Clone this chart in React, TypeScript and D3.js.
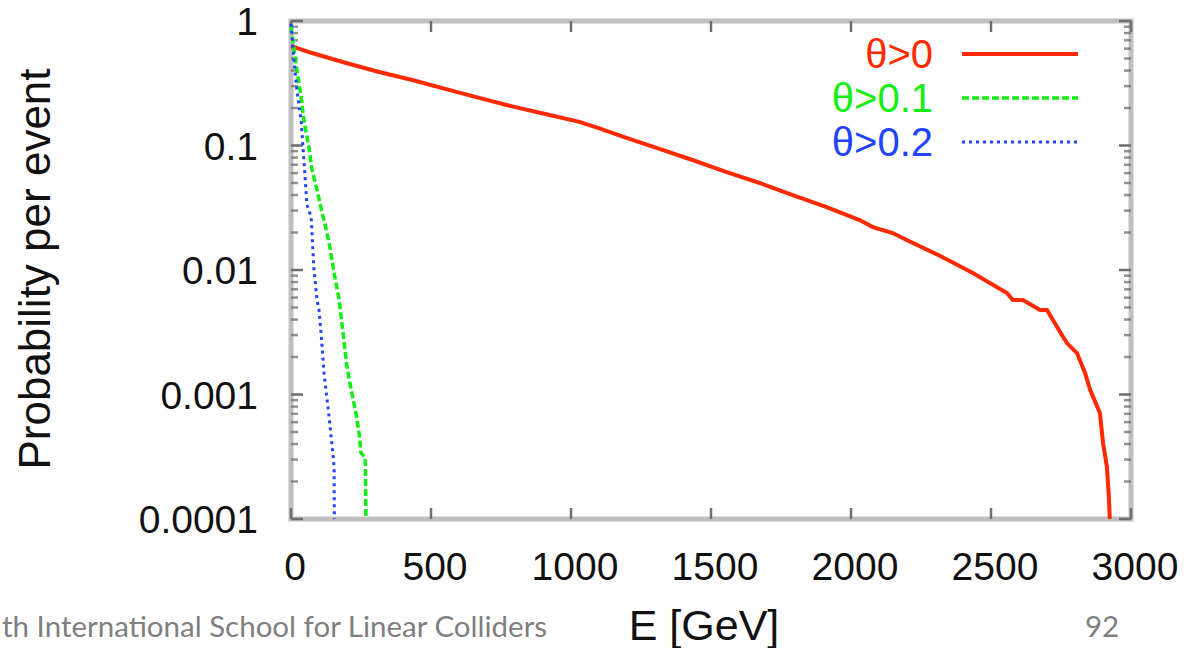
import React from "react";
import * as d3 from "d3";

const xTicks = [0, 500, 1000, 1500, 2000, 2500, 3000];
const xTickLabels = ["0", "500", "1000", "1500", "2000", "2500", "3000"];
const yTicks = [1, 0.1, 0.01, 0.001, 0.0001];
const yTickLabels = ["1", "0.1", "0.01", "0.001", "0.0001"];

const redE = [0, 75, 197, 315, 433, 554, 672, 790, 912, 1030, 1101, 1198, 1316, 1434, 1556, 1674, 1792, 1913, 2031, 2078, 2149, 2199, 2317, 2435, 2557, 2578, 2614, 2675, 2700, 2736, 2771, 2807, 2836, 2854, 2889, 2900, 2914, 2921, 2925];
const redP = [0.63, 0.553, 0.46, 0.389, 0.336, 0.284, 0.241, 0.206, 0.178, 0.155, 0.137, 0.115, 0.094, 0.0765, 0.061, 0.05, 0.04, 0.032, 0.0252, 0.0221, 0.0198, 0.0174, 0.013, 0.00946, 0.00654, 0.00574, 0.00574, 0.00477, 0.00477, 0.00348, 0.00259, 0.00215, 0.00149, 0.00109, 0.00071, 0.00041, 0.000262, 0.00015, 0.00009];

const greenE = [0, 21, 36, 46, 64, 75, 93, 111, 118, 136, 154, 172, 190, 200, 215, 232, 243, 250, 265, 268];
const greenP = [0.9, 0.404, 0.245, 0.16, 0.097, 0.0636, 0.044, 0.0287, 0.0252, 0.0165, 0.00946, 0.00574, 0.00259, 0.00166, 0.00109, 0.00071, 0.00049, 0.00034, 0.00031, 0.00009];

const blueE = [0, 11, 21, 36, 46, 57, 72, 82, 93, 100, 107, 118, 129, 136, 147, 154, 155];
const blueP = [0.95, 0.469, 0.279, 0.16, 0.0765, 0.0333, 0.0267, 0.01, 0.00574, 0.00477, 0.00318, 0.00149, 0.0009, 0.00066, 0.00038, 0.00026, 0.00009];

const seriesNames = ["\u03b8>0", "\u03b8>0.1", "\u03b8>0.2"];
const seriesColors = ["#ff2a00", "#14ee14", "#2244ff"];
const seriesDash = ["none", "7,3", "3,4"];
const seriesWidth = [4, 3.5, 3];

const W = 1196, H = 648;
const L = 291, R = 1131, T = 21, B = 519;

export default function App() {
  const x = d3.scaleLinear().domain([0, 3000]).range([L, R]);
  const y = d3.scaleLog().domain([0.0001, 1]).range([B, T]);
  const series = [
    redE.map((e, i) => [e, redP[i]] as [number, number]),
    greenE.map((e, i) => [e, greenP[i]] as [number, number]),
    blueE.map((e, i) => [e, blueP[i]] as [number, number]),
  ];
  const line = d3.line<[number, number]>().x(d => x(d[0])).y(d => y(d[1]));

  const minor: number[] = [];
  for (let k = -4; k < 0; k++) {
    for (let m = 2; m <= 9; m++) minor.push(m * Math.pow(10, k));
  }
  const font = "'Liberation Sans', Arial, Helvetica, sans-serif";
  const tickColor = "#6e6e6e";
  const frameColor = "#c0c0c0";

  return (
    <svg width={W} height={H} style={{ position: "absolute", left: 0, top: 0, background: "#fff" }} fontFamily={font}>
      <defs>
        <clipPath id="plotclip">
          <rect x={L - 2} y={T - 4} width={R - L + 4} height={B - T + 4} />
        </clipPath>
      </defs>
      <rect x={0} y={0} width={W} height={H} fill="#fff" />
      <rect x={L} y={T} width={R - L} height={B - T} fill="none" stroke={frameColor} strokeWidth={5} />
      {xTicks.map(t => (
        <g key={"xt" + t}>
          <line x1={x(t)} x2={x(t)} y1={B} y2={B - 11} stroke={tickColor} strokeWidth={2.5} />
          <line x1={x(t)} x2={x(t)} y1={T} y2={T + 11} stroke={tickColor} strokeWidth={2.5} />
        </g>
      ))}
      {yTicks.map(t => (
        <g key={"yt" + t}>
          <line x1={L} x2={L + 12} y1={y(t)} y2={y(t)} stroke={tickColor} strokeWidth={2.5} />
          <line x1={R} x2={R - 12} y1={y(t)} y2={y(t)} stroke={tickColor} strokeWidth={2.5} />
        </g>
      ))}
      {minor.map(t => (
        <g key={"ym" + t}>
          <line x1={L} x2={L + 7} y1={y(t)} y2={y(t)} stroke={tickColor} strokeWidth={2.5} opacity={0.75} />
          <line x1={R} x2={R - 7} y1={y(t)} y2={y(t)} stroke={tickColor} strokeWidth={2.5} opacity={0.75} />
        </g>
      ))}
      <g clipPath="url(#plotclip)">
        {series.map((s, i) => (
          <path key={"s" + i} d={line(s) || ""} fill="none" stroke={seriesColors[i]} strokeWidth={seriesWidth[i]}
            strokeDasharray={seriesDash[i]} strokeLinejoin="miter" />
        ))}
      </g>
      {yTicks.map((t, i) => (
        <text key={"yl" + t} x={258} y={y(t) + 14} textAnchor="end" fontSize={39} fill="#111">{yTickLabels[i]}</text>
      ))}
      {xTicks.map((t, i) => (
        <text key={"xl" + t} x={x(t) + 4} y={580} textAnchor="middle" fontSize={39} fill="#111">{xTickLabels[i]}</text>
      ))}
      <text x={704} y={640} textAnchor="middle" fontSize={43} fill="#111">E [GeV]</text>
      <text transform={`translate(50,269) rotate(-90)`} textAnchor="middle" fontSize={44} fill="#111">Probability per event</text>
      {seriesNames.map((n, i) => {
        const ly = 54 + i * 44;
        return (
          <g key={"lg" + i}>
            <text x={933} y={ly + 14} textAnchor="end" fontSize={40} fill={seriesColors[i]}>{n}</text>
            <line x1={962} x2={1078} y1={ly} y2={ly} stroke={seriesColors[i]} strokeWidth={seriesWidth[i]} strokeDasharray={seriesDash[i]} />
          </g>
        );
      })}
      <text x={2} y={637} fontSize={29.5} fill="#7f7f7f" fontFamily="Lato, 'Open Sans', sans-serif">th International School for Linear Colliders</text>
      <text x={1085} y={637} fontSize={29.5} fill="#7f7f7f" fontFamily="Lato, 'Open Sans', sans-serif">92</text>
    </svg>
  );
}
